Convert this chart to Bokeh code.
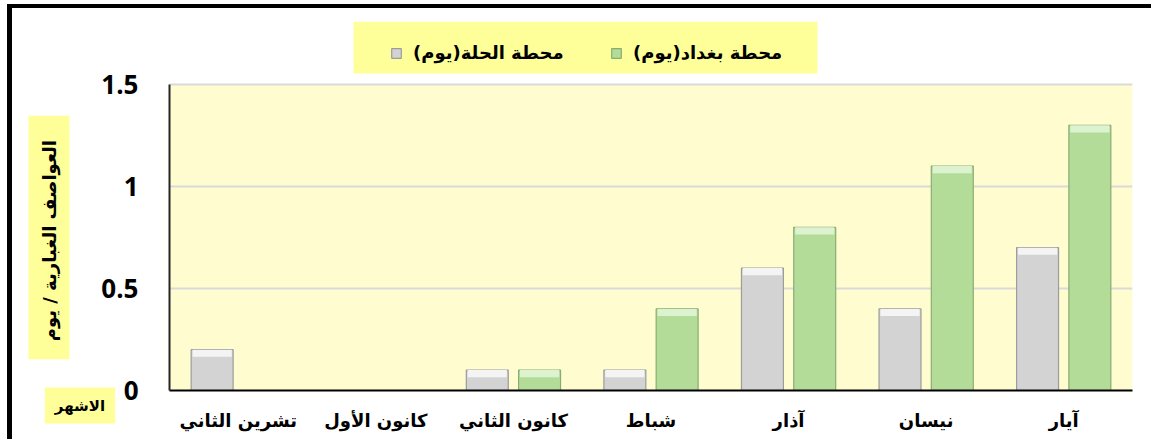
import math
from bokeh.plotting import figure
from bokeh.models import (ColumnDataSource, FactorRange, Range1d, FixedTicker,
                          NumeralTickFormatter, Legend, LegendItem, Label, BoxAnnotation)
from bokeh.transform import dodge
from bokeh.embed import file_html
from bokeh.resources import INLINE

# ---- data ----
months = ["تشرين الثاني", "كانون الأول", "كانون الثاني", "شباط", "آذار", "نيسان", "آيار"]
hilla = [0.2, 0, 0.1, 0.1, 0.6, 0.4, 0.7]
baghdad = [0, 0, 0.1, 0.4, 0.8, 1.1, 1.3]
series_names = ["محطة الحلة(يوم)\u200f", "محطة بغداد(يوم)\u200f"]
y_ticks = [0, 0.5, 1, 1.5]
y_title = "العواصف  الغبارية / يوم"
x_title = "الاشهر"

AR_FONT = "DejaVu Sans"
NUM_FONT = "Open Sans"
BEVEL = 0.035
GRAY, GRAY_LINE, GRAY_HI = "#D3D3D3", "#9C9C9C", "#F4F4F4"
GREEN, GREEN_LINE, GREEN_HI = "#B4DC99", "#88AD72", "#DDF2CF"
BOX_YELLOW = "#FFFF99"
PLOT_BG = "#FFFCCF"

src = ColumnDataSource(dict(
    month=months, hilla=hilla, baghdad=baghdad,
    hilla_hi=[v - min(v / 2, BEVEL) for v in hilla],
    baghdad_hi=[v - min(v / 2, BEVEL) for v in baghdad],
))

# ---- layout (pixels) ----
W, H = 1144, 435
LEFT_BORDER, RIGHT_BORDER, TOP_BORDER, BOTTOM_BORDER = 157, 24, 13, 53
PLOT_AREA_PX = 306                               # height of the 0..1.5 plot area
FRAME_W = W - LEFT_BORDER - RIGHT_BORDER
FRAME_H = H - TOP_BORDER - BOTTOM_BORDER         # frame also holds the legend strip
Y_MAX = y_ticks[-1]
Y_END = Y_MAX * FRAME_H / PLOT_AREA_PX
PX_PER_UNIT = PLOT_AREA_PX / Y_MAX
PX_PER_CAT = FRAME_W / len(months)
# legend box relative to the frame's bottom-left corner: left, right, bottom, top
LEG_BOX = (184, 648, 317, 369)

# ---------------- main chart ----------------
p = figure(
    x_range=FactorRange(factors=months, range_padding=0, factor_padding=0),
    y_range=Range1d(0, Y_END),
    width=W, height=H,
    output_backend="svg", toolbar_location=None,
    min_border_left=LEFT_BORDER, min_border_right=RIGHT_BORDER,
    min_border_top=TOP_BORDER, min_border_bottom=BOTTOM_BORDER,
)
p.styles = {"margin-left": "7px", "margin-top": "4px",
            "border-left": "5px solid black", "border-top": "4px solid black"}
p.background_fill_color = "white"
p.border_fill_color = "white"
p.outline_line_color = None

# yellow plot area (0 .. 1.5)
p.add_layout(BoxAnnotation(bottom=0, top=Y_MAX, fill_color=PLOT_BG, fill_alpha=1,
                           line_color=None, level="image"))
# legend background box
p.add_layout(BoxAnnotation(left=LEG_BOX[0] / PX_PER_CAT, right=LEG_BOX[1] / PX_PER_CAT,
                           bottom=LEG_BOX[2] / PX_PER_UNIT, top=LEG_BOX[3] / PX_PER_UNIT,
                           fill_color=BOX_YELLOW, fill_alpha=1, line_color=None,
                           level="image"))

r_h = p.vbar(x=dodge("month", -0.19, range=p.x_range), top="hilla", width=0.305, source=src,
             fill_color=GRAY, line_color=GRAY_LINE, line_width=1.2)
r_b = p.vbar(x=dodge("month", 0.19, range=p.x_range), top="baghdad", width=0.305, source=src,
             fill_color=GREEN, line_color=GREEN_LINE, line_width=1.2)
p.vbar(x=dodge("month", -0.19, range=p.x_range), top="hilla", bottom="hilla_hi", width=0.285,
       source=src, fill_color=GRAY_HI, line_color=None)
p.vbar(x=dodge("month", 0.19, range=p.x_range), top="baghdad", bottom="baghdad_hi", width=0.285,
       source=src, fill_color=GREEN_HI, line_color=None)

p.xgrid.grid_line_color = None
p.ygrid.grid_line_color = "#D9D9D9"
p.ygrid.grid_line_width = 2
p.yaxis.ticker = FixedTicker(ticks=y_ticks)
p.yaxis.bounds = (0, Y_MAX)
p.yaxis.formatter = NumeralTickFormatter(format="0.[0]")
p.yaxis.major_tick_line_color = None
p.yaxis.minor_tick_line_color = None
p.yaxis.axis_line_color = "#262626"
p.yaxis.axis_line_width = 2
p.yaxis.major_label_standoff = 25
p.yaxis.major_label_text_font = NUM_FONT
p.yaxis.major_label_text_font_style = "bold"
p.yaxis.major_label_text_font_size = "26px"
p.yaxis.major_label_text_color = "black"

p.xaxis.major_tick_line_color = None
p.xaxis.minor_tick_line_color = None
p.xaxis.axis_line_color = "black"
p.xaxis.axis_line_width = 2
p.xaxis.major_label_standoff = 13
p.xaxis.major_label_text_font = AR_FONT
p.xaxis.major_label_text_font_style = "bold"
p.xaxis.major_label_text_font_size = "18px"
p.xaxis.major_label_text_color = "black"

# series legend (inside the frame, above the plot area)
legend = Legend(
    items=[LegendItem(label=series_names[0], renderers=[r_h]),
           LegendItem(label=series_names[1], renderers=[r_b])],
    orientation="horizontal", location=(221, 327),
    background_fill_color=BOX_YELLOW, background_fill_alpha=1,
    border_line_color=None, padding=0, spacing=37, margin=0,
    glyph_width=12, glyph_height=12, label_standoff=11, label_width=160,
    label_text_font=AR_FONT, label_text_font_style="bold",
    label_text_font_size="18px", label_text_color="black",
)
p.add_layout(legend)

# ---------------- transparent overlay for the boxed titles ----------------
p2 = figure(width=W, height=H, x_range=Range1d(0, W), y_range=Range1d(0, H),
            x_axis_type=None, y_axis_type=None, output_backend="svg",
            toolbar_location=None, min_border=0)
p2.styles = {"margin-left": "12px", "margin-top": "-%dpx" % H}
p2.outline_line_color = None
p2.background_fill_alpha = 0
p2.border_fill_alpha = 0

ylab = Label(x=36.5, y=202, x_units="screen", y_units="screen", text=y_title,
             angle=math.pi / 2, text_align="center", text_baseline="middle",
             text_font=AR_FONT, text_font_style="bold", text_font_size="18px",
             text_color="black", background_fill_color=BOX_YELLOW, padding=(18, 10))
xlab = Label(x=67.5, y=34, x_units="screen", y_units="screen", text=x_title,
             text_align="center", text_baseline="middle",
             text_font=AR_FONT, text_font_style="bold", text_font_size="15px",
             text_color="black", background_fill_color=BOX_YELLOW, padding=(10, 9))
p2.add_layout(ylab)
p2.add_layout(xlab)

open("out.html", "w").write(file_html([p, p2], INLINE))
